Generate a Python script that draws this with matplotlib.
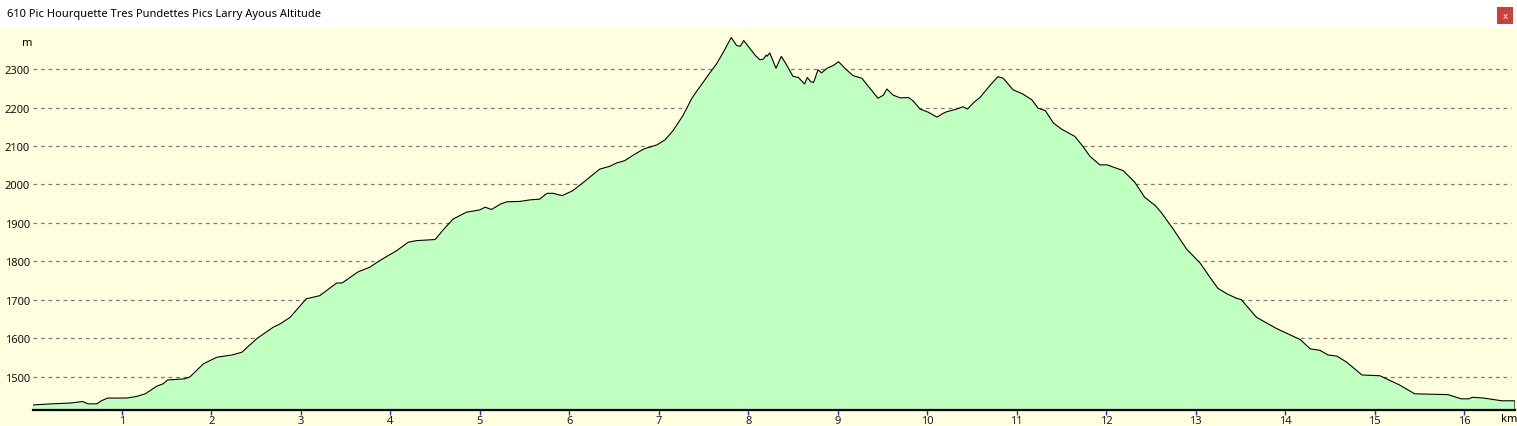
import matplotlib
matplotlib.use("Agg")
import matplotlib.pyplot as plt
from matplotlib.patches import Rectangle

title = "610 Pic Hourquette Tres Pundettes Pics Larry Ayous Altitude"

km = [0.00, 0.21, 0.42, 0.56, 0.62, 0.72, 0.77, 0.84, 1.05, 1.16, 1.26, 1.39, 1.46, 1.51, 1.70, 1.76,
      1.91, 2.06, 2.23, 2.34, 2.51, 2.69, 2.77, 2.88, 3.06, 3.21, 3.40, 3.46, 3.64, 3.77, 3.88,
      4.07, 4.20, 4.29, 4.50, 4.59, 4.70, 4.85, 5.00, 5.06, 5.13, 5.23, 5.30, 5.45, 5.56, 5.67,
      5.75, 5.82, 5.92, 6.04, 6.16, 6.34, 6.45, 6.53, 6.62, 6.72, 6.83, 6.98, 7.07, 7.16, 7.27,
      7.37, 7.42, 7.54, 7.65, 7.72, 7.81, 7.87, 7.91, 7.95, 8.00, 8.08, 8.13, 8.17, 8.20, 8.21,
      8.24, 8.31, 8.37, 8.43, 8.50, 8.56, 8.63, 8.66, 8.70, 8.73, 8.78, 8.82, 8.88, 8.95, 9.01,
      9.08, 9.17, 9.27, 9.38, 9.45, 9.51, 9.55, 9.62, 9.70, 9.79, 9.84, 9.92, 10.01, 10.11,
      10.18, 10.22, 10.33, 10.40, 10.45, 10.52, 10.59, 10.70, 10.79, 10.85, 10.96, 11.07, 11.17,
      11.24, 11.32, 11.41, 11.50, 11.65, 11.74, 11.82, 11.93, 12.01, 12.19, 12.32, 12.43, 12.55,
      12.62, 12.75, 12.90, 13.05, 13.16, 13.25, 13.35, 13.46, 13.51, 13.68, 13.91, 14.17, 14.28,
      14.39, 14.48, 14.58, 14.69, 14.86, 15.06, 15.28, 15.45, 15.82, 15.97, 16.05, 16.10, 16.22,
      16.33, 16.42, 16.57]
altitude = [1427, 1430, 1432, 1436, 1430, 1430, 1438, 1445, 1445, 1449, 1456, 1476, 1482, 1492, 1495, 1500,
            1534, 1551, 1557, 1564, 1600, 1629, 1638, 1655, 1703, 1711, 1744, 1744, 1773, 1785, 1802,
            1828, 1850, 1854, 1857, 1882, 1910, 1928, 1934, 1941, 1935, 1949, 1955, 1956, 1960, 1962,
            1977, 1977, 1971, 1984, 2006, 2040, 2047, 2056, 2062, 2077, 2092, 2103, 2116, 2140, 2179,
            2224, 2241, 2280, 2315, 2343, 2382, 2361, 2359, 2374, 2359, 2335, 2324, 2326, 2336, 2333,
            2342, 2302, 2333, 2310, 2281, 2278, 2261, 2278, 2267, 2265, 2298, 2290, 2302, 2309, 2319,
            2302, 2283, 2276, 2244, 2224, 2232, 2248, 2232, 2225, 2226, 2218, 2196, 2188, 2175,
            2185, 2189, 2196, 2202, 2196, 2213, 2226, 2257, 2280, 2276, 2246, 2235, 2220,
            2198, 2192, 2160, 2144, 2125, 2099, 2073, 2051, 2051, 2036, 2006, 1967, 1945,
            1926, 1884, 1832, 1796, 1759, 1730, 1716, 1704, 1701, 1655, 1625, 1597, 1573,
            1569, 1557, 1554, 1538, 1505, 1503, 1479, 1456, 1454, 1443, 1443, 1447, 1445,
            1441, 1438, 1438]

x_ticks = list(range(1, 17))
y_ticks = [1500, 1600, 1700, 1800, 1900, 2000, 2100, 2200, 2300]

W, H = 1517, 427
fig = plt.figure(figsize=(W / 100, H / 100), dpi=100)
yellow = "#FFFFE0"
fig.patch.set_facecolor(yellow)
plt.rcParams['font.family'] = ['Noto Sans', 'DejaVu Sans']

# title bar
fig.patches.append(Rectangle((0, 1 - 29 / H), 1, 29 / H, transform=fig.transFigure,
                             facecolor="white", edgecolor="none", zorder=0))
fig.text(7 / W, 1 - 15 / H, title, ha="left", va="center", fontsize=8, color="black")
fig.patches.append(Rectangle((1497 / W, 1 - 25 / H), 16 / W, 17 / H, transform=fig.transFigure,
                             facecolor="#C9403C", edgecolor="none", zorder=1))
fig.text(1505 / W, 1 - 16.5 / H, "x", ha="center", va="center", fontsize=7, color="white", zorder=2)

ymin, ymax = 1414, 2404
xmax = km[-1]
ax = fig.add_axes([32.5 / W, (H - 411) / H, (1515 - 32.5) / W, (411 - 30) / H])
ax.set_facecolor(yellow)
ax.set_xlim(0, xmax)
ax.set_ylim(ymin, ymax)

for v in y_ticks:
    ax.axhline(v, color="#7a7a7a", lw=0.9, ls=(0, (3, 3)), xmax=0.997, zorder=1)

xs = [km[0]] + km + [km[-1]]
ys = [ymin] + altitude + [ymin]
ax.fill_between(km, altitude, ymin, color="#BFFFBF", lw=0, zorder=2)
ax.plot(xs, ys, color="black", lw=0.8, zorder=3)

for s in ["top", "right", "left"]:
    ax.spines[s].set_visible(False)
ax.spines["bottom"].set_color("black")
ax.spines["bottom"].set_linewidth(1.6)
ax.spines["bottom"].set_zorder(4)

ax.set_xticks(x_ticks)
ax.set_xticklabels([str(t) for t in x_ticks])
ax.tick_params(axis="x", direction="out", length=3.5, width=1, color="#2030E0",
               labelsize=8, labelcolor="#201830", pad=0)
ax.set_yticks(y_ticks)
ax.set_yticklabels([str(t) for t in y_ticks])
ax.tick_params(axis="y", length=0, labelsize=8, labelcolor="#101010", pad=2)

fig.text(27 / W, 1 - 43 / H, "m", ha="center", va="center", fontsize=8, color="black")
fig.text(1509 / W, 1 - 420 / H, "km", ha="center", va="center", fontsize=8, color="black")

fig.savefig("out.png", dpi=100, facecolor=fig.get_facecolor())
